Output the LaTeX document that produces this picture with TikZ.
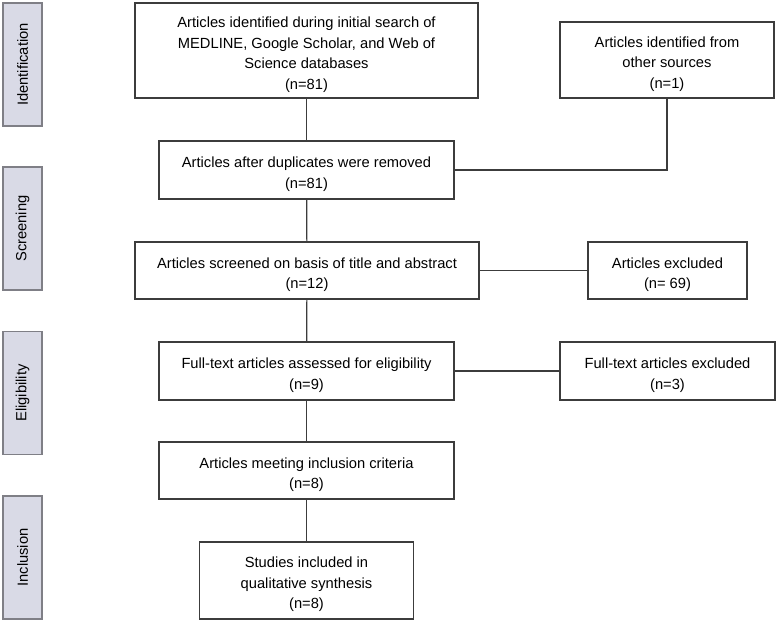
\documentclass[tikz,border=0pt]{standalone}
\usepackage{fontspec}
\setmainfont{Liberation Sans}
\usepackage{tikz}
\definecolor{phasefill}{HTML}{D9DAE6}
\definecolor{phaseline}{HTML}{7F7F86}
\definecolor{boxline}{HTML}{3C3C3C}
\newcommand{\toplift}{\rule{0pt}{19pt}}
\tikzset{
    flowbox/.style={draw=boxline, line width=1.2pt, align=center, inner sep=0pt,
        font=\fontsize{14.7}{20.5}\selectfont},
    phase/.style={draw=phaseline, fill=phasefill, line width=1.2pt, rotate=90,
        minimum width=123pt, minimum height=39pt, inner sep=0pt,
        font=\fontsize{14.7}{16}\selectfont},
    link/.style={draw=boxline, line width=1.2pt}
}

\begin{document}
\begin{tikzpicture}[x=1pt, y=-1pt]
    \useasboundingbox (0,0) rectangle (778,622);

    \node(idphase)[phase] at (22.5, 64.5) {Identification};
    \node(scphase)[phase] at (22.5, 228.5) {Screening};
    \node(elphase)[phase] at (22.5, 393) {Eligibility};
    \node(inphase)[phase] at (22.5, 557.5) {Inclusion};

    \node(search)[flowbox, minimum width=343pt, minimum height=95pt] at (306.5, 50.5)
        {\toplift Articles identified during initial search of\\MEDLINE, Google Scholar, and Web of\\Science databases\\(n=81)};
    \node(other)[flowbox, minimum width=214pt, minimum height=76pt] at (667, 60)
        {\toplift Articles identified from\\other sources\\(n=1)};
    \node(dupl)[flowbox, minimum width=295pt, minimum height=58pt] at (306.5, 170)
        {\toplift Articles after duplicates were removed\\(n=81)};
    \node(screen)[flowbox, minimum width=344pt, minimum height=57pt] at (307, 270.5)
        {\toplift Articles screened on basis of title and abstract\\(n=12)};
    \node(excl)[flowbox, minimum width=159pt, minimum height=57pt] at (667.5, 270.5)
        {\toplift Articles excluded\\(n= 69)};
    \node(fulltext)[flowbox, minimum width=295pt, minimum height=58pt] at (306.5, 371)
        {\toplift Full-text articles assessed for eligibility\\(n=9)};
    \node(fullexcl)[flowbox, minimum width=215pt, minimum height=58pt] at (667.5, 371)
        {\toplift Full-text articles excluded\\(n=3)};
    \node(meet)[flowbox, minimum width=295pt, minimum height=57pt] at (306.5, 470.5)
        {\toplift Articles meeting inclusion criteria\\(n=8)};
    \node(synth)[flowbox, minimum width=214pt, minimum height=77pt] at (306.5, 580.5)
        {\toplift Studies included in\\qualitative synthesis\\(n=8)};

    \draw[link] (search) -- (dupl);
    \draw[link] (other.south) |- (dupl.east);
    \draw[link] (dupl) -- (screen);
    \draw[link] (screen) -- (excl);
    \draw[link] (screen) -- (fulltext);
    \draw[link] (fulltext) -- (fullexcl);
    \draw[link] (fulltext) -- (meet);
    \draw[link] (meet) -- (synth);

\end{tikzpicture}
\end{document}
